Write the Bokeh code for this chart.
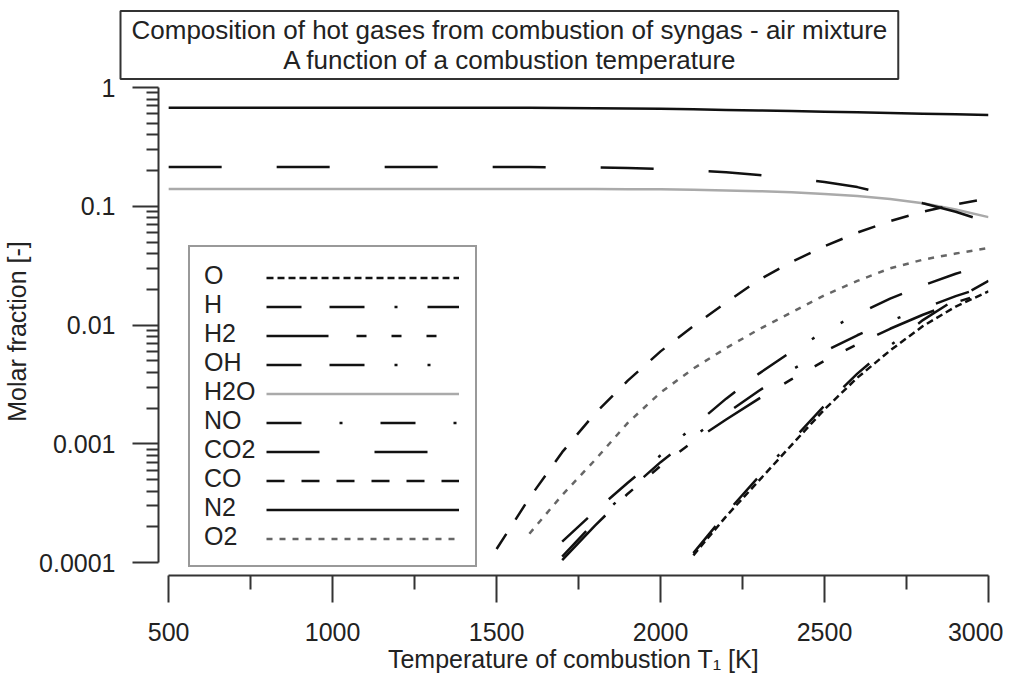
import numpy as np
from bokeh.plotting import figure
from bokeh.models import (Range1d, FixedTicker, CustomJSTickFormatter, Legend,
                          LegendItem, Title)
from bokeh.embed import file_html
from bokeh.resources import INLINE

# ---------------- data ----------------
temperature = [500, 600, 700, 800, 900, 1000, 1100, 1200, 1300, 1400, 1500, 1600, 1700,
               1800, 1900, 2000, 2100, 2200, 2300, 2400, 2500, 2600, 2700, 2800, 2900, 3000]
N = None
x_O = [N, N, N, N, N, N, N, N, N, N, N, N, N, N, N, N,
       1.15e-4, 2.45e-4, 4.9e-4, 9.8e-4, 1.95e-3, 3.6e-3, 6.1e-3, 9.8e-3, 0.0143, 0.0192]
x_H = [N, N, N, N, N, N, N, N, N, N, N, N, N, N, N, N,
       1.2e-4, 2.6e-4, 5.3e-4, 1.06e-3, 2.1e-3, 3.9e-3, 6.7e-3, 0.0110, 0.0165, 0.0235]
x_H2 = [N, N, N, N, N, N, N, N, N, N, N, N,
        1.05e-4, 2.05e-4, 3.8e-4, 6.5e-4, 1.05e-3, 1.6e-3, 2.4e-3, 3.5e-3, 5.0e-3, 6.9e-3,
        9.3e-3, 0.0122, 0.0155, 0.019]
x_OH = [N, N, N, N, N, N, N, N, N, N, N, N,
        1.5e-4, 2.7e-4, 4.7e-4, 8.0e-4, 1.4e-3, 2.4e-3, 3.9e-3, 6.0e-3, 8.8e-3, 0.0123,
        0.0167, 0.0215, 0.027, 0.033]
x_H2O = [0.140, 0.140, 0.140, 0.140, 0.140, 0.140, 0.140, 0.140, 0.140, 0.140, 0.140, 0.140,
         0.140, 0.140, 0.139, 0.139, 0.138, 0.136, 0.134, 0.131, 0.127, 0.122, 0.115, 0.106,
         0.094, 0.081]
x_NO = [N, N, N, N, N, N, N, N, N, N, N, N,
        1.12e-4, 2.2e-4, 4.0e-4, 7.0e-4, 1.15e-3, 1.8e-3, 2.8e-3, 4.2e-3, 6.0e-3, 8.2e-3,
        0.0108, 0.0138, 0.0175, 0.0215]
x_CO2 = [0.214, 0.214, 0.214, 0.214, 0.214, 0.214, 0.214, 0.214, 0.214, 0.214, 0.214, 0.214,
         0.213, 0.212, 0.210, 0.206, 0.200, 0.193, 0.183, 0.172, 0.160, 0.145, 0.125, 0.106,
         0.090, 0.073]
x_CO = [N, N, N, N, N, N, N, N, N, N,
        1.3e-4, 3.5e-4, 8.5e-4, 1.8e-3, 3.4e-3, 6.0e-3, 9.8e-3, 0.0155, 0.024, 0.034, 0.046,
        0.060, 0.075, 0.090, 0.104, 0.116]
x_N2 = [0.676, 0.676, 0.676, 0.676, 0.676, 0.676, 0.676, 0.676, 0.676, 0.676, 0.676, 0.675,
        0.673, 0.670, 0.666, 0.661, 0.655, 0.648, 0.641, 0.634, 0.626, 0.618, 0.610, 0.602,
        0.594, 0.586]
x_O2 = [N, N, N, N, N, N, N, N, N, N, N,
        1.75e-4, 3.7e-4, 7.3e-4, 1.5e-3, 2.7e-3, 4.3e-3, 6.4e-3, 9.2e-3, 0.0128, 0.0178, 0.0235,
        0.030, 0.0355, 0.040, 0.0445]

species = ["O", "H", "H2", "OH", "H2O", "NO", "CO2", "CO", "N2", "O2"]
series = [x_O, x_H, x_H2, x_OH, x_H2O, x_NO, x_CO2, x_CO, x_N2, x_O2]

x_ticks = [500, 1000, 1500, 2000, 2500, 3000]
x_minor_ticks = [750, 1250, 1750, 2250, 2750]
y_ticks = [0.0001, 0.001, 0.01, 0.1, 1]
y_tick_labels = ["0.0001", "0.001", "0.01", "0.1", "1"]
y_minor_mult = [2, 3, 4, 5, 6, 7, 8, 9]

title_line1 = "Composition of hot gases from combustion of syngas - air mixture"
title_line2 = "A function of a combustion temperature"

# ---------------- styles ----------------
styles = {
    "O":   dict(color="#111111", dash="7 4"),
    "H":   dict(color="#111111", dash="35 28 35 30 3 30"),
    "H2":  dict(color="#111111", dash="62 28 10 25 10 25 10 25"),
    "OH":  dict(color="#111111", dash="35 28 35 30 3 30 3 30"),
    "H2O": dict(color="#aaaaaa", dash="solid"),
    "NO":  dict(color="#111111", dash="35 38 3 38"),
    "CO2": dict(color="#111111", dash="53 55"),
    "CO":  dict(color="#111111", dash="18 17"),
    "N2":  dict(color="#111111", dash="solid"),
    "O2":  dict(color="#666666", dash="6 7"),
}

FONT = "Liberation Sans"
FS = "25px"
TXT = "#222222"
AX = "#333333"

# second title line is centred under the first one (non-breaking spaces keep the indent)
title_text = title_line1 + "\n" + "\u00a0" * 21 + title_line2
title = Title(text=title_text, align="left", offset=-38, standoff=17,
              text_font=FONT, text_font_size="26px", text_font_style="normal",
              text_color=TXT, border_line_color=AX, border_line_width=2,
              background_fill_color="white", padding=(11, 4))

p = figure(width=1003, height=675,
           x_range=Range1d(469.0, 3000), y_range=Range1d(7.78e-5, 1.0),
           y_axis_type="log", output_backend="svg", toolbar_location=None,
           min_border_left=155, min_border_right=15, min_border_top=87,
           min_border_bottom=98, title=title)
p.xgrid.visible = False
p.ygrid.visible = False
p.outline_line_color = None
p.background_fill_color = "white"

renderers = []
for name, vals in zip(species, series):
    xs = np.array([t for t, v in zip(temperature, vals) if v is not None], dtype=float)
    ys = np.array([v for v in vals if v is not None], dtype=float)
    st = styles[name]
    r = p.line(xs, ys, line_color=st["color"], line_width=2.5, line_dash=st["dash"])
    renderers.append(r)

# ---------------- axes ----------------
xa = p.xaxis[0]
xa.ticker = FixedTicker(ticks=x_ticks, minor_ticks=x_minor_ticks)
xa.bounds = (x_ticks[0], x_ticks[-1])
xa.axis_line_color = AX
xa.axis_line_width = 2
xa.major_tick_line_color = AX
xa.major_tick_line_width = 2
xa.minor_tick_line_color = AX
xa.minor_tick_line_width = 2
xa.major_tick_in = 0
xa.major_tick_out = 27
xa.minor_tick_in = 0
xa.minor_tick_out = 14
xa.major_label_text_font = FONT
xa.major_label_text_font_size = FS
xa.major_label_text_color = TXT
xa.major_label_standoff = 20
xa.axis_label = "Temperature of combustion T\u2081 [K]"
xa.axis_label_text_font = FONT
xa.axis_label_text_font_size = FS
xa.axis_label_text_font_style = "normal"
xa.axis_label_text_color = TXT
xa.axis_label_standoff = 1

y_minor = [m * t for t in y_ticks[:-1] for m in y_minor_mult]
ya = p.yaxis[0]
ya.ticker = FixedTicker(ticks=y_ticks, minor_ticks=y_minor)
ya.formatter = CustomJSTickFormatter(
    args=dict(vals=y_ticks, labs=y_tick_labels),
    code="""
    for (let i = 0; i < vals.length; i++) {
        if (Math.abs(Math.log10(vals[i]) - Math.log10(tick)) < 1e-6) { return labs[i]; }
    }
    return "";
    """)
ya.bounds = (y_ticks[0], y_ticks[-1])
ya.axis_line_color = AX
ya.axis_line_width = 2
ya.major_tick_line_color = AX
ya.major_tick_line_width = 2
ya.minor_tick_line_color = AX
ya.minor_tick_line_width = 2
ya.major_tick_in = 0
ya.major_tick_out = 26
ya.minor_tick_in = 0
ya.minor_tick_out = 12
ya.major_label_text_font = FONT
ya.major_label_text_font_size = FS
ya.major_label_text_color = TXT
ya.major_label_standoff = 17
ya.axis_label = "Molar fraction [-]"
ya.axis_label_text_font = FONT
ya.axis_label_text_font_size = FS
ya.axis_label_text_font_style = "normal"
ya.axis_label_text_color = TXT
ya.axis_label_standoff = 5

# ---------------- legend: labels on the left, line samples on the right ----------------
label_legend = Legend(
    items=[LegendItem(label=n, renderers=[r]) for n, r in zip(species, renderers)],
    location=(30, 8), orientation="vertical",
    padding=14, spacing=0, margin=0,
    glyph_width=0, glyph_height=29, label_height=29, label_width=257, label_standoff=0,
    label_text_font=FONT, label_text_font_size=FS, label_text_color=TXT,
    border_line_color=AX, border_line_width=2, background_fill_color="white",
    background_fill_alpha=1.0)
glyph_legend = Legend(
    items=[LegendItem(label=n, renderers=[r]) for n, r in zip(species, renderers)],
    location=(94, 8), orientation="vertical",
    padding=14, spacing=0, margin=0,
    glyph_width=193, glyph_height=29, label_height=29, label_width=0, label_standoff=0,
    label_text_font_size="1px", label_text_alpha=0.0,
    border_line_alpha=0.0, background_fill_alpha=0.0)
p.add_layout(label_legend, "center")
p.add_layout(glyph_legend, "center")

open("out.html", "w").write(file_html(p, INLINE))
